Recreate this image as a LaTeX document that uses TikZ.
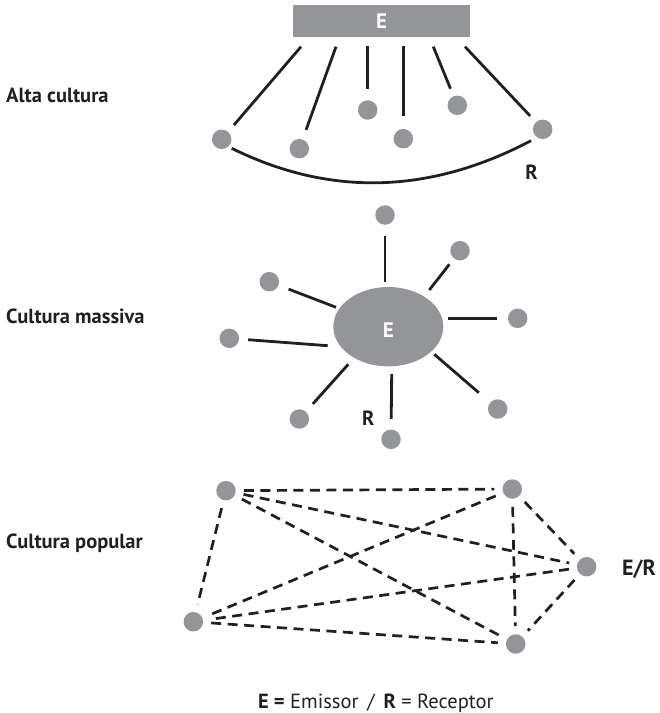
\documentclass[tikz,border=0pt]{standalone}
\usepackage{fontspec}
\setmainfont{PT Sans}
\usetikzlibrary{shapes.geometric}
\definecolor{dotgray}{HTML}{939598}
\definecolor{ink}{HTML}{231F20}
\begin{document}
\begin{tikzpicture}[x=1pt,y=-1pt,
  dot/.style={circle,fill=dotgray,minimum size=19.5pt,inner sep=0pt},
  solidln/.style={draw=ink,line width=2.8pt},
  dashln/.style={draw=ink,line width=2.7pt,dash pattern=on 10pt off 6.5pt,shorten <=8pt,shorten >=8pt},
  lbl/.style={font=\fontsize{20.5}{24}\selectfont\bfseries,text=ink,inner sep=0pt},
  reg/.style={font=\fontsize{20.5}{24}\selectfont,text=ink,inner sep=0pt},
]
\useasboundingbox (0,0) rectangle (660,713);

% ---------- Alta cultura ----------
\node[lbl,anchor=base west] (lab1) at (6,102) {Alta cultura};
\node[fill=dotgray,minimum width=177pt,minimum height=32pt,inner sep=0pt,
      font=\fontsize{21}{24}\selectfont\bfseries,text=white] (E1) at (381.5,21) {E};
\node[dot] (d1) at (221.7,139.3) {};
\node[dot] (d2) at (299.3,148.7) {};
\node[dot] (d3) at (367.7,110) {};
\node[dot] (d4) at (403.3,138.7) {};
\node[dot] (d5) at (457.3,105.3) {};
\node[dot] (d6) at (542.7,129.3) {};
\coordinate (t1) at (301,46.7);
\coordinate (t2) at (336,46.7);
\coordinate (t3) at (367.7,46);
\coordinate (t4) at (403.3,46);
\coordinate (t5) at (433.3,46.7);
\coordinate (t6) at (465,46.7);
\draw[solidln,shorten >=8.8pt] (t1) -- (d1);
\draw[solidln,shorten >=10.1pt] (t2) -- (d2);
\draw[solidln,shorten >=11.5pt] (t3) -- (d3);
\draw[solidln,shorten >=13.2pt] (t4) -- (d4);
\draw[solidln,shorten >=8pt] (t5) -- (d5);
\draw[solidln,shorten >=8.4pt] (t6) -- (d6);
\coordinate (cL) at (231.7,148.3);
\coordinate (cR) at (531,140.7);
\draw[solidln] (cL) .. controls (329.7,196.7) and (429.4,194.2) .. (cR);
\node[lbl,anchor=base] (R1) at (531.5,179) {R};

% ---------- Cultura massiva ----------
\node[lbl,anchor=base west] (lab2) at (6,323.3) {Cultura massiva};
\node[ellipse,fill=dotgray,minimum width=110pt,minimum height=79.4pt,inner sep=0pt] (Em) at (388.3,326.7) {};
\node[font=\fontsize{21}{24}\selectfont\bfseries,text=white,inner sep=0pt] (EmT) at (388.3,330.3) {E};
\node[dot] (m1) at (385,215) {};
\node[dot] (m2) at (460,250.7) {};
\node[dot] (m3) at (517.7,318.3) {};
\node[dot] (m4) at (497.7,409) {};
\node[dot] (m5) at (391,439.3) {};
\node[dot] (m6) at (299.3,419) {};
\node[dot] (m7) at (229.3,338.3) {};
\node[dot] (m8) at (269.3,281.7) {};
\coordinate (s1) at (385,281.7);
\coordinate (s2) at (429.3,290);
\coordinate (s3) at (448.3,318.3);
\coordinate (s4) at (434.3,354.3);
\coordinate (s5) at (391.7,374);
\coordinate (s6) at (348.3,364.3);
\coordinate (s7) at (327.7,345.7);
\coordinate (s8) at (336,307.3);
\draw[solidln,shorten >=11.5pt] (s1) -- (m1);
\draw[solidln,shorten >=7.3pt] (s2) -- (m2);
\draw[solidln,shorten >=10.5pt] (s3) -- (m3);
\draw[solidln,shorten >=15pt] (s4) -- (m4);
\draw[solidln,shorten >=10.5pt] (s5) -- (m5);
\draw[solidln,shorten >=10.4pt] (s6) -- (m6);
\draw[solidln,shorten >=9pt] (s7) -- (m7);
\draw[solidln,shorten >=10.7pt] (s8) -- (m8);
\node[lbl,anchor=base] (R2) at (368.3,425) {R};

% ---------- Cultura popular ----------
\node[lbl,anchor=base west] (lab3) at (6,548.3) {Cultura popular};
\node[dot] (pA) at (226,490.7) {};
\node[dot] (pB) at (512.3,489) {};
\node[dot] (pC) at (586.7,566.7) {};
\node[dot] (pD) at (515.7,644) {};
\node[dot] (pF) at (193.3,621.7) {};
\draw[dashln] (pA) -- (pB);
\draw[dashln] (pA) -- (pC);
\draw[dashln] (pA) -- (pD);
\draw[dashln] (pA) -- (pF);
\draw[dashln] (pB) -- (pF);
\draw[dashln] (pB) -- (pD);
\draw[dashln] (pB) -- (pC);
\draw[dashln] (pC) -- (pF);
\draw[dashln] (pC) -- (pD);
\draw[dashln] (pF) -- (pD);
\node[font=\fontsize{22}{26}\selectfont\bfseries,text=ink,inner sep=0pt,anchor=base west] (ER) at (622,575) {E/R};

% ---------- legend ----------
\node[reg,anchor=base] (leg) at (375.8,708) {\textbf{E =} Emissor \,/\, \textbf{R} = Receptor};
\end{tikzpicture}
\end{document}
